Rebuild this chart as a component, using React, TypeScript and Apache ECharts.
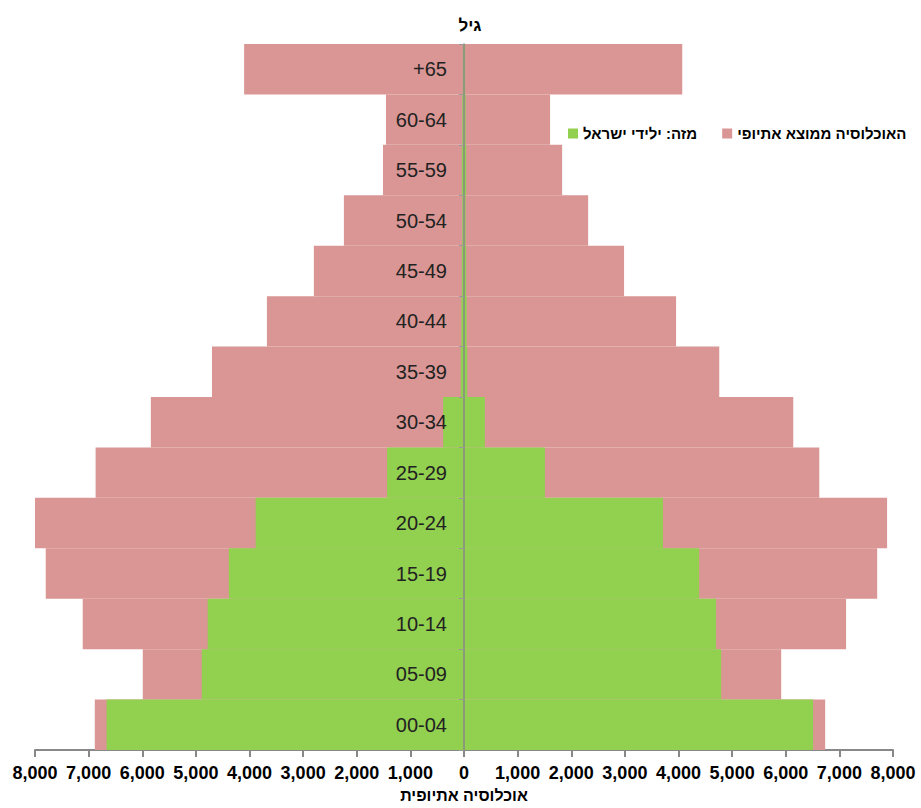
import React, { useEffect, useRef } from "react";
import * as echarts from "echarts";

const categories = ["00-04", "05-09", "10-14", "15-19", "20-24", "25-29", "30-34", "35-39", "40-44", "45-49", "50-54", "55-59", "60-64", "+65"];
const totalLeft = [6885, 5990, 7110, 7800, 8000, 6870, 5840, 4700, 3675, 2800, 2240, 1510, 1455, 4100];
const totalRight = [6735, 5915, 7125, 7705, 7890, 6625, 6140, 4760, 3955, 2985, 2315, 1830, 1605, 4070];
const israelBornLeft = [6665, 4890, 4780, 4385, 3885, 1435, 390, 60, 50, 40, 30, 40, 30, 20];
const israelBornRight = [6510, 4795, 4700, 4385, 3710, 1510, 390, 60, 50, 40, 30, 40, 30, 20];
const xTicks = { min: -8000, max: 8000, interval: 1000 };

const totalName = "האוכלוסיה ממוצא אתיופי";
const bornName = "מזה: ילידי ישראל";
const titleText = "גיל";
const xAxisName = "אוכלוסיה אתיופית";

const PINK = "#D99694";
const GREEN = "#92D050";
const FONT = "'Liberation Sans', 'DejaVu Sans', Arial, sans-serif";

const GRID_LEFT = 35;
const GRID_RIGHT = 28;
const WIDTH = 921;
const HEIGHT = 808;

export default function App() {
  const ref = useRef<HTMLDivElement>(null);
  useEffect(() => {
    document.body.style.margin = "0";
    const chart = echarts.init(ref.current!, null, { renderer: "svg" });
    const plotW = WIDTH - GRID_LEFT - GRID_RIGHT;
    const zeroOffset = (plotW * (0 - xTicks.min)) / (xTicks.max - xTicks.min);
    const bar = (name: string, data: number[], color: string, z: number) => ({
      name,
      type: "bar",
      data,
      yAxisIndex: 0,
      barGap: "-100%",
      barCategoryGap: 0,
      itemStyle: { color },
      z,
    });
    chart.setOption({
      animation: false,
      textStyle: { fontFamily: FONT },
      title: {
        text: titleText,
        left: 465,
        top: 12,
        textAlign: "center",
        textStyle: { fontSize: 17, fontWeight: "bold", color: "#000", fontFamily: FONT },
      },
      legend: {
        data: [bornName, totalName],
        left: 563,
        top: 121,
        icon: "rect",
        itemWidth: 10,
        itemHeight: 10,
        itemGap: 25,
        textStyle: { fontSize: 15, fontWeight: "bold", color: "#000", fontFamily: FONT },
      },
      grid: {
        left: GRID_LEFT,
        right: GRID_RIGHT,
        top: 44,
        bottom: 58,
        containLabel: false,
        outerBoundsMode: "none",
      },
      xAxis: {
        type: "value",
        min: xTicks.min,
        max: xTicks.max,
        interval: xTicks.interval,
        name: xAxisName,
        nameLocation: "middle",
        nameGap: 37,
        nameTextStyle: { fontSize: 16, fontWeight: "bold", color: "#000", fontFamily: FONT },
        axisLine: { show: true, onZero: false, lineStyle: { color: "#888", width: 2 } },
        axisTick: { show: true, length: 7, lineStyle: { color: "#888", width: 2 } },
        axisLabel: {
          margin: 14,
          fontSize: 18,
          fontWeight: "bold",
          color: "#000",
          fontFamily: FONT,
          showMinLabel: true,
          showMaxLabel: true,
          hideOverlap: false,
          formatter: (v: number) => Math.abs(v).toLocaleString("en-US"),
        },
        splitLine: { show: false },
      },
      yAxis: [
        {
          type: "category",
          data: categories,
          z: 10,
          axisLine: { show: true, onZero: true, lineStyle: { color: "#888", width: 1.5 } },
          axisTick: { show: true, length: 5, lineStyle: { color: "#999" } },
          axisLabel: { show: false },
          splitLine: { show: false },
        },
        {
          type: "category",
          data: categories,
          position: "left",
          offset: -zeroOffset,
          z: 10,
          axisLine: { show: false, onZero: false },
          axisTick: { show: false },
          axisLabel: { margin: 17, fontSize: 20, color: "#222", fontFamily: FONT },
          splitLine: { show: false },
        },
      ],
      series: [
        bar(totalName, totalLeft.map((v) => -v), PINK, 2),
        bar(totalName, totalRight, PINK, 2),
        bar(bornName, israelBornLeft.map((v) => -v), GREEN, 3),
        bar(bornName, israelBornRight, GREEN, 3),
      ],
    });
    return () => chart.dispose();
  }, []);
  return <div ref={ref} style={{ position: "absolute", left: 0, top: 0, width: WIDTH, height: HEIGHT }} />;
}
